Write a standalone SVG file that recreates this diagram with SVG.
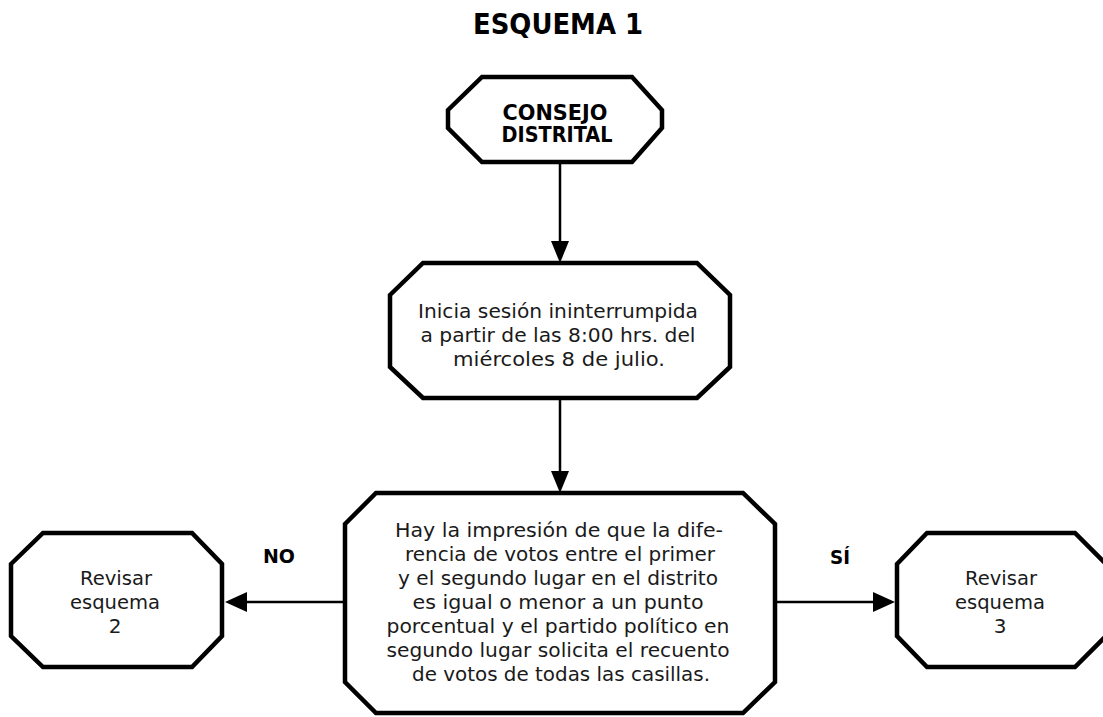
<svg xmlns="http://www.w3.org/2000/svg" width="1103" height="717" viewBox="0 0 1103 717">
<style>
.node{fill:#fff;stroke:#000;stroke-width:4.5;stroke-linejoin:miter}
.t{font-family:"DejaVu Sans","Liberation Sans",sans-serif;font-size:20px;fill:#1a1a1a;text-anchor:middle}
.b{font-family:"DejaVu Sans","Liberation Sans",sans-serif;font-weight:bold;fill:#000;text-anchor:middle}
.c{stroke:#000;stroke-width:2.5;fill:none}
.ah{fill:#000}
</style>
<text class="b" x="558" y="34" font-size="29" textLength="170" lengthAdjust="spacingAndGlyphs">ESQUEMA 1</text>
<g id="connectors">
<line class="c" x1="560" y1="162" x2="560" y2="242"/>
<polygon class="ah" points="551,241 569,241 560,263"/>
<line class="c" x1="560" y1="398" x2="560" y2="472"/>
<polygon class="ah" points="551,471 569,471 560,493"/>
<line class="c" x1="345" y1="602" x2="246" y2="602"/>
<polygon class="ah" points="247,592 247,612 225,602"/>
<line class="c" x1="775" y1="602" x2="874" y2="602"/>
<polygon class="ah" points="873,592 873,612 895,602"/>
<text class="b" x="279" y="563" font-size="19" textLength="32" lengthAdjust="spacingAndGlyphs">NO</text>
<text class="b" x="840" y="564" font-size="19" textLength="20" lengthAdjust="spacingAndGlyphs">SÍ</text>
</g>
<g id="n1">
<polygon class="node" points="448,110 482,77 632,77 662,110 662,128 632,162 482,162 448,128"/>
<text class="b" x="555" y="120" font-size="21" textLength="105" lengthAdjust="spacingAndGlyphs">CONSEJO</text>
<text class="b" x="557" y="142" font-size="21" textLength="111" lengthAdjust="spacingAndGlyphs">DISTRITAL</text>
</g>
<g id="n2">
<polygon class="node" points="390,295 423,263 697,263 730,295 730,367 697,398 423,398 390,367"/>
<text class="t" x="558" y="318" textLength="280" lengthAdjust="spacingAndGlyphs">Inicia sesión ininterrumpida</text>
<text class="t" x="558" y="342" textLength="275" lengthAdjust="spacingAndGlyphs">a partir de las 8:00 hrs. del</text>
<text class="t" x="559" y="366" textLength="212" lengthAdjust="spacingAndGlyphs">miércoles 8 de julio.</text>
</g>
<g id="n3">
<polygon class="node" points="345,524 376,493 743,493 775,524 775,682 743,713 376,713 345,682"/>
<text class="t" x="559" y="537" textLength="328" lengthAdjust="spacingAndGlyphs">Hay la impresión de que la dife-</text>
<text class="t" x="560" y="561" textLength="310" lengthAdjust="spacingAndGlyphs">rencia de votos entre el primer</text>
<text class="t" x="558" y="585" textLength="320" lengthAdjust="spacingAndGlyphs">y el segundo lugar en el distrito</text>
<text class="t" x="558" y="609" textLength="291" lengthAdjust="spacingAndGlyphs">es igual o menor a un punto</text>
<text class="t" x="558" y="633" textLength="343" lengthAdjust="spacingAndGlyphs">porcentual y el partido político en</text>
<text class="t" x="558" y="657" textLength="343" lengthAdjust="spacingAndGlyphs">segundo lugar solicita el recuento</text>
<text class="t" x="561" y="681" textLength="298" lengthAdjust="spacingAndGlyphs">de votos de todas las casillas.</text>
</g>
<g id="n4">
<polygon class="node" points="11,564 43,533 192,533 222,564 222,636 192,667 43,667 11,636"/>
<text class="t" x="116" y="585" textLength="72" lengthAdjust="spacingAndGlyphs">Revisar</text>
<text class="t" x="115" y="609" textLength="90" lengthAdjust="spacingAndGlyphs">esquema</text>
<text class="t" x="115" y="633">2</text>
</g>
<g id="n5">
<polygon class="node" points="897,564 927,533 1075,533 1106,564 1106,636 1075,667 927,667 897,636"/>
<text class="t" x="1001" y="585" textLength="72" lengthAdjust="spacingAndGlyphs">Revisar</text>
<text class="t" x="1000" y="609" textLength="90" lengthAdjust="spacingAndGlyphs">esquema</text>
<text class="t" x="1000" y="633">3</text>
</g>
</svg>
